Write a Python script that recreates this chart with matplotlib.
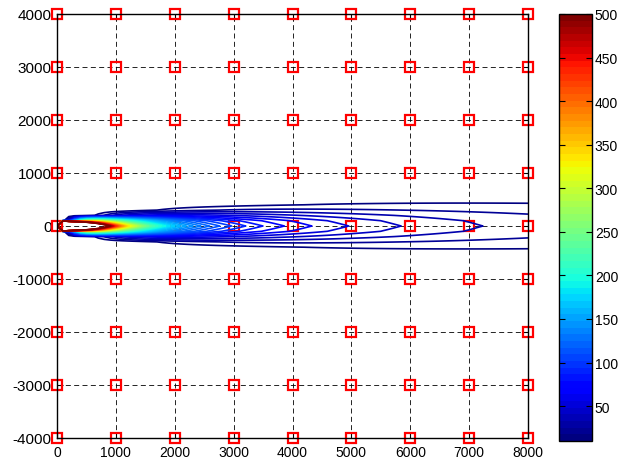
import numpy as np
import matplotlib
matplotlib.use('Agg')
import matplotlib.pyplot as plt
from matplotlib import cm, colors

plt.rcParams['font.family'] = ['Liberation Sans', 'DejaVu Sans']
plt.rcParams['font.size'] = 10
plt.rcParams['axes.unicode_minus'] = False

# receptor points (red squares)
rec_x = [0, 1000, 2000, 3000, 4000, 5000, 6000, 7000, 8000]
rec_y = [-4000, -3000, -2000, -1000, 0, 1000, 2000, 3000, 4000]

# plume parameters
c_ref = 500.0      # centre-line value at x_ref
x_ref = 900.0      # where the 500 contour closes on the axis
decay = 1.35       # centre-line fall-off exponent
sy_a = 1.40        # sigma_y = sy_a * x ** sy_b
sy_b = 0.60

levels = np.arange(10, 501, 10)
cbar_ticks = [50, 100, 150, 200, 250, 300, 350, 400, 450, 500]

# grid used for the contour
xg = np.arange(0, 8001, 100.0)
yg = np.arange(-4000, 4001, 100.0)
X, Y = np.meshgrid(xg, yg)

Xs = np.where(X > 0, X, 1.0)
centre = c_ref * (x_ref / Xs) ** decay
sig = sy_a * Xs ** sy_b
C = centre * np.exp(-Y ** 2 / (2 * sig ** 2))
C[X == 0] = 0.0

fig = plt.figure(figsize=(6.19, 4.64), dpi=100)
ax = fig.add_axes([57 / 619, 25 / 464, 471 / 619, 424 / 464])

# grid
for xv in rec_x:
    ax.axvline(xv, color='k', lw=0.6, dashes=(6, 4), zorder=1)
for yv in rec_y:
    ax.axhline(yv, color='k', lw=0.6, dashes=(6, 4), zorder=1)

RX, RY = np.meshgrid(rec_x, rec_y)
ax.plot(RX.ravel(), RY.ravel(), 's', ms=7.5, mfc='none', mec='red', mew=1.6,
        clip_on=False, zorder=3)

norm = colors.Normalize(vmin=10, vmax=500)
cs = ax.contour(X, Y, C, levels=levels, cmap='jet', norm=norm, linewidths=1.2)
cs.set_zorder(4)

ax.set_xlim(0, 8000)
ax.set_ylim(-4000, 4000)
ax.set_xticks(rec_x)
ax.set_yticks(rec_y)
ax.tick_params(direction='in', length=4, top=True, right=True, pad=5)
ax.tick_params(axis='y', labelsize=11, pad=4)
for s in ax.spines.values():
    s.set_linewidth(1.0)
    s.set_zorder(6)

cax = fig.add_axes([559 / 619, 22 / 464, 33 / 619, 427 / 464])
sm = cm.ScalarMappable(norm=norm, cmap=plt.get_cmap('jet', 64))
cb = fig.colorbar(sm, cax=cax, ticks=cbar_ticks)
cb.outline.set_linewidth(1.0)
cax.tick_params(direction='in', length=4, left=True, right=True, pad=2,
                labelsize=10)

fig.savefig('out.png', dpi=100)
